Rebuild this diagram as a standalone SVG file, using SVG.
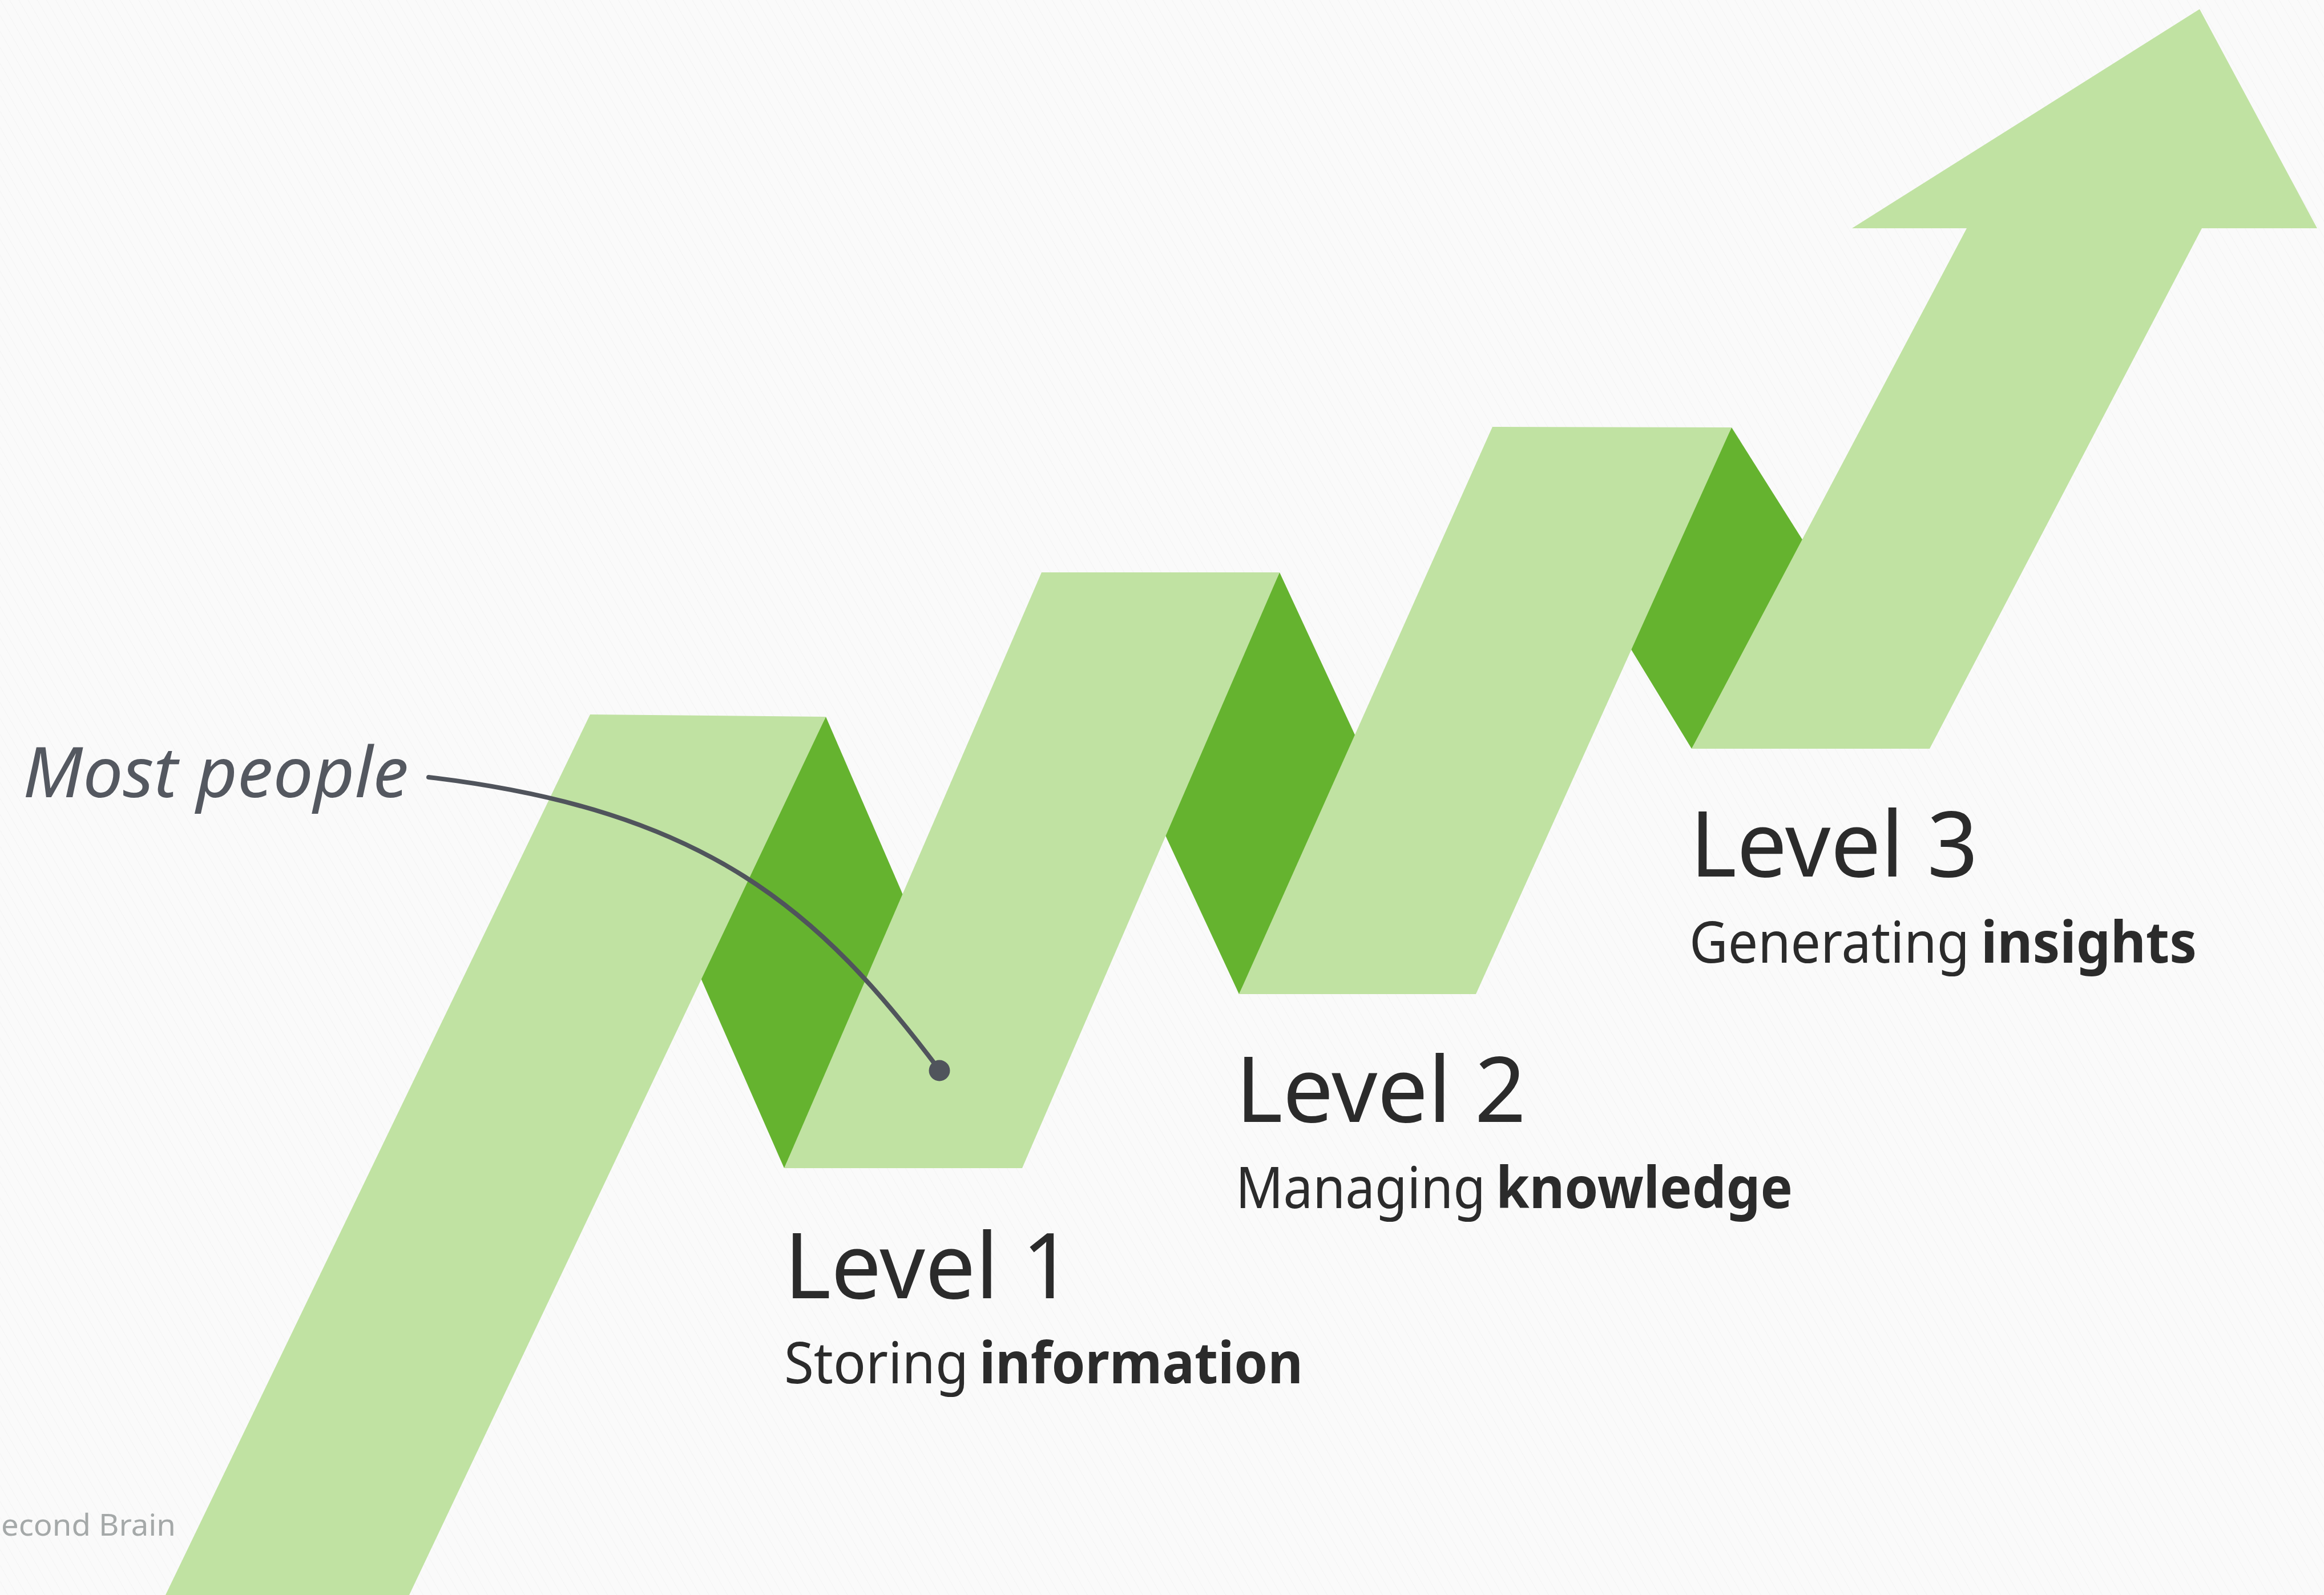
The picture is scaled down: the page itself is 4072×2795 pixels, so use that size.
<svg xmlns="http://www.w3.org/2000/svg" width="4072" height="2795" viewBox="0 0 4072 2795">
  <defs>
    <pattern id="paper" width="14" height="14" patternUnits="userSpaceOnUse" patternTransform="rotate(-30)">
      <rect width="14" height="14" fill="#FAFAFA"/>
      <line x1="0" y1="0" x2="0" y2="14" stroke="#F4F4F4" stroke-width="2"/>
    </pattern>
  </defs>
  <style>
    .light { fill: #C0E2A2; }
    .dark { fill: #65B32F; }
    .lvl { font-family: "Noto Sans", "Open Sans", "Liberation Sans", sans-serif; font-size: 160px; fill: #2B2B2B; }
    .sub { font-family: "Noto Sans", "Open Sans", "Liberation Sans", sans-serif; font-size: 100px; fill: #2B2B2B; }
    .b { font-weight: 700; }
    .note { font-family: "Noto Sans", "Open Sans", "Liberation Sans", sans-serif; font-style: italic; font-size: 122px; fill: #545860; }
    .mark { font-family: "Noto Sans", "Open Sans", "Liberation Sans", sans-serif; font-size: 53px; fill: #A5A9A9; }
    .link { fill: none; stroke: #50545C; stroke-width: 8; stroke-linecap: round; }
  </style>

  <rect width="4072" height="2795" fill="url(#paper)"/>

  <g id="ribbon">
    <g id="fold-1"><polygon class="dark" points="1447,1256 1589,1584 1374,2047 1220,1696"/></g>
    <g id="fold-2"><polygon class="dark" points="2242,1003 2382,1305 2171,1742 2035,1449"/></g>
    <g id="fold-3"><polygon class="dark" points="3034,749 3169,963 2964,1312 2847,1120"/></g>
    <g id="band-1"><polygon class="light" points="1034,1252 1447,1256 717,2795 290,2795"/></g>
    <g id="band-2"><polygon class="light" points="1825,1003 2242,1003 1791,2047 1374,2047"/></g>
    <g id="band-3"><polygon class="light" points="2615,748 3034,749 2586,1742 2171,1742"/></g>
    <g id="arrow"><polygon class="light" points="2964,1312 3381,1312 3858,400 4060,400 3854,16 3245,400 3446,400"/></g>
  </g>

  <g id="connectors">
    <path class="link" d="M751,1362 C1240,1420 1436,1595 1646,1875"/>
    <circle cx="1646" cy="1876" r="18.5" fill="#50545C"/>
  </g>

  <g id="label-most-people">
    <text class="note" x="40" y="1397" textLength="676" lengthAdjust="spacingAndGlyphs">Most people</text>
  </g>

  <g id="level-1">
    <text class="lvl" x="1374" y="2275" textLength="506" lengthAdjust="spacingAndGlyphs">Level 1</text>
    <text class="sub" x="1374" y="2424" textLength="323" lengthAdjust="spacingAndGlyphs">Storing</text>
    <text class="sub b" x="1716" y="2424" textLength="567" lengthAdjust="spacingAndGlyphs">information</text>
  </g>

  <g id="level-2">
    <text class="lvl" x="2165" y="1966" textLength="509" lengthAdjust="spacingAndGlyphs">Level 2</text>
    <text class="sub" x="2165" y="2117" textLength="438" lengthAdjust="spacingAndGlyphs">Managing</text>
    <text class="sub b" x="2621" y="2117" textLength="520" lengthAdjust="spacingAndGlyphs">knowledge</text>
  </g>

  <g id="level-3">
    <text class="lvl" x="2961" y="1536" textLength="505" lengthAdjust="spacingAndGlyphs">Level 3</text>
    <text class="sub" x="2960" y="1687" textLength="491" lengthAdjust="spacingAndGlyphs">Generating</text>
    <text class="sub b" x="3471" y="1687" textLength="378" lengthAdjust="spacingAndGlyphs">insights</text>
  </g>

  <g id="watermark">
    <text class="mark" x="2" y="2691" textLength="306" lengthAdjust="spacingAndGlyphs">econd Brain</text>
  </g>
</svg>
